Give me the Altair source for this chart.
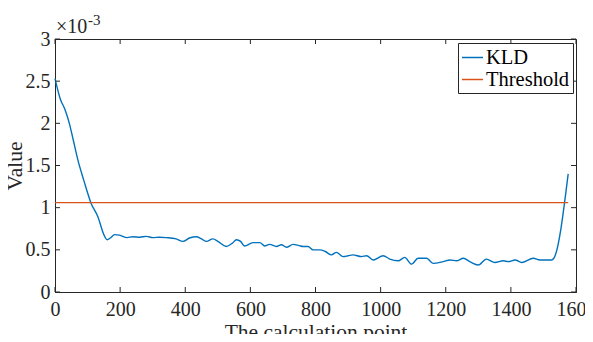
import altair as alt
import pandas as pd

# ---- data (y in units of 1e-3) ----
calc_points = [0, 17, 30, 44, 55, 70, 88, 111, 132, 150, 160, 170, 183, 198, 221, 239,
               260, 280, 301, 320, 342, 372, 393, 413, 434, 450, 465, 485, 500, 526,
               545, 557, 570, 582, 608, 629, 644, 659, 680, 695, 711, 731, 750, 762,
               777, 793, 813, 830, 849, 864, 885, 900, 915, 941, 957, 977, 1008, 1028,
               1054, 1074, 1095, 1115, 1141, 1161, 1192, 1213, 1233, 1254, 1274, 1300,
               1325, 1351, 1377, 1392, 1413, 1433, 1469, 1489, 1525, 1532, 1576]
kld_values = [2.53, 2.28, 2.17, 2.00, 1.82, 1.57, 1.33, 1.05, 0.89, 0.68, 0.62, 0.64,
              0.68, 0.675, 0.645, 0.656, 0.65, 0.66, 0.645, 0.65, 0.645, 0.63, 0.60,
              0.64, 0.656, 0.63, 0.60, 0.63, 0.60, 0.54, 0.58, 0.62, 0.60, 0.545,
              0.585, 0.585, 0.545, 0.565, 0.54, 0.56, 0.53, 0.565, 0.55, 0.54, 0.54,
              0.50, 0.50, 0.48, 0.44, 0.47, 0.42, 0.43, 0.44, 0.42, 0.43, 0.38, 0.43,
              0.39, 0.37, 0.41, 0.33, 0.40, 0.40, 0.34, 0.36, 0.38, 0.37, 0.40, 0.36,
              0.32, 0.39, 0.35, 0.37, 0.36, 0.38, 0.35, 0.40, 0.38, 0.38, 0.40, 1.40]
threshold_x = [0, 1576]
threshold_values = [1.06, 1.06]
series_names = ["KLD", "Threshold"]
series_colors = ["#0072BD", "#D95319"]
x_ticks = [0, 200, 400, 600, 800, 1000, 1200, 1400, 1600]
y_ticks = [0, 0.5, 1, 1.5, 2, 2.5, 3]

FONT = "Liberation Serif"
INK = "#262626"
W, H = 521, 253

lines = pd.DataFrame({
    "x": calc_points + threshold_x,
    "y": kld_values + threshold_values,
    "series": [series_names[0]] * len(calc_points) + [series_names[1]] * len(threshold_x),
})
xt = pd.DataFrame({"x": x_ticks})
yt = pd.DataFrame({"y": y_ticks})

x_scale = alt.Scale(domain=[0, 1600], nice=False, zero=False)
y_scale = alt.Scale(domain=[0, 3], nice=False)
x_axis = alt.Axis(values=x_ticks, title="The calculation point", ticks=False, format="d",
                  labelPadding=7, titlePadding=2, grid=False, labelFlush=False)
y_axis = alt.Axis(values=y_ticks, title="Value", ticks=False, format="~g", labelPadding=5,
                  titleX=-29, titleY=H / 2, grid=False, labelFlush=False)
X = alt.X("x:Q", scale=x_scale, axis=x_axis)
Y = alt.Y("y:Q", scale=y_scale, axis=y_axis)

line = alt.Chart(lines).mark_line(strokeWidth=1.4, interpolate="monotone").encode(
    x=X, y=Y,
    color=alt.Color("series:N",
                    scale=alt.Scale(domain=series_names, range=series_colors),
                    legend=alt.Legend(title=None, orient="none", legendX=403, legendY=4,
                                      symbolType="stroke", symbolSize=441,
                                      symbolStrokeWidth=1.5, labelFont=FONT,
                                      labelFontSize=20.5, labelColor="black",
                                      fillColor="white", strokeColor=INK, padding=3,
                                      rowPadding=0, labelOffset=2, cornerRadius=0)),
)

bottom_ticks = alt.Chart(xt).mark_rule(color=INK, strokeWidth=1).encode(
    x=X, y=alt.value(H), y2=alt.value(H - 5))
top_ticks = alt.Chart(xt).mark_rule(color=INK, strokeWidth=1).encode(
    x=X, y=alt.value(0), y2=alt.value(5))
left_ticks = alt.Chart(yt).mark_rule(color=INK, strokeWidth=1).encode(
    y=Y, x=alt.value(0), x2=alt.value(5))
right_ticks = alt.Chart(yt).mark_rule(color=INK, strokeWidth=1).encode(
    y=Y, x=alt.value(W), x2=alt.value(W - 5))

exp_base = alt.Chart(pd.DataFrame({"t": ["×10"]})).mark_text(
    font=FONT, fontSize=20, color=INK, align="left", baseline="alphabetic").encode(
    text="t:N", x=alt.value(1), y=alt.value(-6))
exp_sup = alt.Chart(pd.DataFrame({"t": ["-3"]})).mark_text(
    font=FONT, fontSize=15, color=INK, align="left", baseline="alphabetic").encode(
    text="t:N", x=alt.value(33), y=alt.value(-14))

chart = alt.layer(line, bottom_ticks, top_ticks, left_ticks, right_ticks, exp_base, exp_sup).properties(
    width=W, height=H,
    autosize=alt.AutoSizeParams(type="none"),
    padding={"left": 47, "top": 31, "right": 9, "bottom": 42},
    background="white",
).configure_view(stroke=INK, strokeWidth=1).configure_axis(
    domainColor=INK, domainWidth=1, labelFont=FONT, labelFontSize=20, labelColor=INK,
    titleFont=FONT, titleFontSize=21.5, titleColor=INK, titleFontWeight="normal",
)

chart.save("out.html", embed_options={"renderer": "svg", "actions": False})
